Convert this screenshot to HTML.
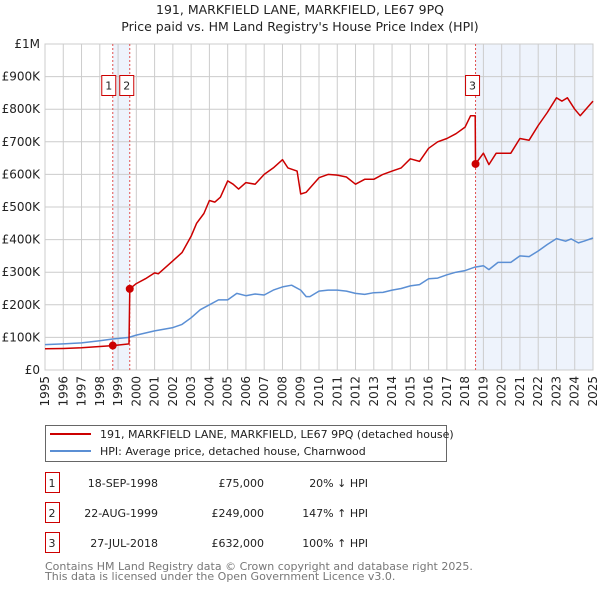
<!DOCTYPE html>
<html><head><meta charset="utf-8"><style>
body{margin:0;background:#fff;font-family:"Liberation Sans","DejaVu Sans",sans-serif;}
svg text{font-family:"DejaVu Sans","Liberation Sans",sans-serif;}
</style></head><body>
<svg id="c" width="600" height="590" xmlns="http://www.w3.org/2000/svg">
<text x="300" y="14" text-anchor="middle" font-size="12.5" fill="#222">191, MARKFIELD LANE, MARKFIELD, LE67 9PQ</text>
<text x="300" y="31" text-anchor="middle" font-size="12.5" fill="#222">Price paid vs. HM Land Registry's House Price Index (HPI)</text>
<g id="plot"></g>
<g>
<rect x="45.5" y="425.5" width="401" height="36" fill="#fff" stroke="#666"/>
<line x1="50" y1="434" x2="91" y2="434" stroke="#cc0000" stroke-width="2"/>
<text x="100" y="438" font-size="11" fill="#222">191, MARKFIELD LANE, MARKFIELD, LE67 9PQ (detached house)</text>
<line x1="50" y1="451" x2="91" y2="451" stroke="#5b8fd4" stroke-width="2"/>
<text x="100" y="455" font-size="11" fill="#222">HPI: Average price, detached house, Charnwood</text>
</g>
<g id="table" font-size="11" fill="#222"></g>
<text x="45" y="570" font-size="11" fill="#777">Contains HM Land Registry data © Crown copyright and database right 2025.</text>
<text x="45" y="580" font-size="11" fill="#777">This data is licensed under the Open Government Licence v3.0.</text>
</svg>
<script>
const hpiYears=[1995,1996,1997,1998,1998.7,1999.6,2000,2001,2002,2002.5,2003,2003.5,2004,2004.5,2005,2005.5,2006,2006.5,2007,2007.5,2008,2008.5,2009,2009.3,2009.5,2010,2010.5,2011,2011.5,2012,2012.5,2013,2013.5,2014,2014.5,2015,2015.5,2016,2016.5,2017,2017.5,2018,2018.5,2019,2019.3,2019.8,2020.5,2021,2021.5,2022,2022.5,2023,2023.5,2023.8,2024.2,2024.5,2025];
const hpiValues=[78,80,83,90,95,100,107,120,130,140,160,185,200,215,215,235,228,233,230,245,255,260,245,225,225,242,245,245,242,235,232,237,238,245,250,258,262,280,282,292,300,305,315,320,308,330,330,350,348,365,385,403,395,402,390,395,405];
const priceYears=[1995,1996,1997,1998,1998.71,1999.6,1999.64,2000,2000.5,2001,2001.2,2002,2002.5,2003,2003.3,2003.7,2004,2004.3,2004.6,2005,2005.3,2005.6,2006,2006.5,2007,2007.5,2008,2008.3,2008.8,2009,2009.3,2010,2010.5,2011,2011.5,2012,2012.5,2013,2013.5,2014,2014.5,2015,2015.5,2016,2016.5,2017,2017.5,2018,2018.3,2018.55,2018.57,2019,2019.3,2019.7,2020.5,2021,2021.5,2022,2022.5,2023,2023.3,2023.6,2024,2024.3,2025];
const priceValues=[65,66,68,72,75,80,249,265,280,298,295,335,360,410,450,480,520,515,530,580,570,555,575,570,600,620,645,620,610,540,545,590,600,598,592,570,585,585,600,610,620,648,640,680,700,710,725,745,780,780,632,665,630,665,665,710,705,750,790,835,825,835,800,780,825];
const saleYears=[1998.71,1999.64,2018.57];
const saleValues=[75,249,632];
const saleLabels=["1","2","3"];
const saleDates=["18-SEP-1998","22-AUG-1999","27-JUL-2018"];
const salePrices=["£75,000","£249,000","£632,000"];
const saleHpi=["20% ↓ HPI","147% ↑ HPI","100% ↑ HPI"];
const yTicks=[0,100,200,300,400,500,600,700,800,900,1000];
const yTickLabels=["£0","£100K","£200K","£300K","£400K","£500K","£600K","£700K","£800K","£900K","£1M"];
const xTicks=[1995,1996,1997,1998,1999,2000,2001,2002,2003,2004,2005,2006,2007,2008,2009,2010,2011,2012,2013,2014,2015,2016,2017,2018,2019,2020,2021,2022,2023,2024,2025];

const NS="http://www.w3.org/2000/svg";
const X0=45,X1=593,Y0=370,Y1=44;
const xs=y=>X0+(y-1995)/30*(X1-X0);
const ys=v=>Y0-v/1000*(Y0-Y1);
const plot=document.getElementById('plot');
function mk(t,a,p){const e=document.createElementNS(NS,t);for(const k in a)e.setAttribute(k,a[k]);(p||plot).appendChild(e);return e;}
let s1=mk('rect',{x:xs(saleYears[0]),y:Y1,width:xs(saleYears[1])-xs(saleYears[0]),height:Y0-Y1,fill:'#eef3fc'});


let s2=mk('rect',{x:xs(saleYears[2]),y:Y1,width:X1-xs(saleYears[2]),height:Y0-Y1,fill:'#eef3fc'});


yTicks.forEach((v,i)=>{
 let g=mk('line',{x1:X0,x2:X1,y1:ys(v),y2:ys(v),stroke:'#ccc','stroke-width':1});
 
 
 let t=mk('text',{x:X0-5,y:ys(v)+4,'text-anchor':'end','font-size':12,fill:'#222'});
 t.textContent=yTickLabels[i];
 
 
});
xTicks.forEach(y=>{
 let g=mk('line',{x1:xs(y),x2:xs(y),y1:Y1,y2:Y0,stroke:'#ccc','stroke-width':1});
 
 
 let t=mk('text',{x:0,y:0,'text-anchor':'end','font-size':12,fill:'#222',transform:`translate(${xs(y)+4},376) rotate(-90)`});
 t.textContent=y;
 
 
});
let ax=mk('rect',{x:X0,y:Y1,width:X1-X0,height:Y0-Y1,fill:'none',stroke:'#ccc'});


const boxOff=[-11,-10,-10];
saleYears.forEach((y,i)=>{
 let l=mk('line',{x1:xs(y),x2:xs(y),y1:Y1,y2:Y0,stroke:'#e05050','stroke-width':1,'stroke-dasharray':'2,2'});
 
 
 let bx2=xs(y)+boxOff[i];
 let r=mk('rect',{x:bx2,y:75.5,width:14,height:20,fill:'#fff',stroke:'#cc0000'});
 
 
 let t=mk('text',{x:bx2+7,y:89.5,'text-anchor':'middle','font-size':11,fill:'#222'});
 t.textContent=saleLabels[i];
 
 
});
function line(xa,va,col,name){
 let d=xa.map((y,i)=>(i?'L':'M')+xs(y).toFixed(1)+','+ys(va[i]).toFixed(1)).join('');
 let p=mk('path',{d:d,fill:'none',stroke:col,'stroke-width':1.5,'stroke-linejoin':'round'});
 
 
}
line(hpiYears,hpiValues,'#5b8fd4','hpi-line');
line(priceYears,priceValues,'#cc0000','price-paid-line');
saleYears.forEach((y,i)=>{
 let c=mk('circle',{cx:xs(y),cy:ys(saleValues[i]),r:4,fill:'#cc0000'});
 
 
});
const tb=document.getElementById('table');
saleLabels.forEach((l,i)=>{
 const yy=483+i*30;
 let r=mk('rect',{x:45.5,y:yy-10.5,width:14,height:20,fill:'#fff',stroke:'#cc0000'},tb);
 
 
 const cells=[[52,l,'middle'],[158,saleDates[i],'end'],[264,salePrices[i],'end'],[368,saleHpi[i],'end']];
 cells.forEach(c=>{
  let t=mk('text',{x:c[0],y:yy+4,'text-anchor':c[2]},tb);
  t.textContent=c[1];
  
  
 });
});
</script>
</body></html>
